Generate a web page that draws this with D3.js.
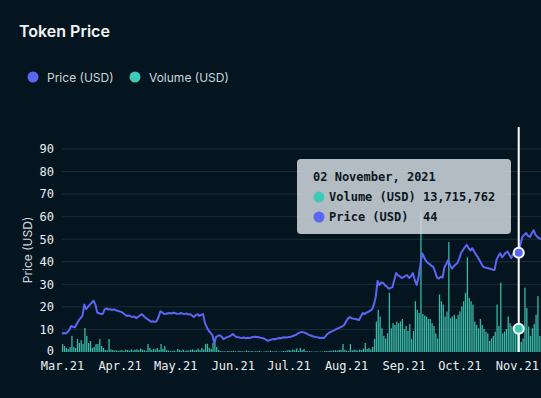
<!DOCTYPE html>
<html>
<head>
<meta charset="utf-8">
<script src="https://cdn.jsdelivr.net/npm/d3@7"></script>
<style>
  html, body { margin: 0; padding: 0; background: #04151f; }
  svg { display: block; }
  .tick text { font-family: "DejaVu Sans Mono", monospace; }
</style>
</head>
<body>
<div id="chart"></div>
<script>
// daily series, first day 2021-03-01
var startDay = '2021-03-01'

var priceMar = [8, 8.5, 8.2, 8.8, 10, 11.5, 11.2, 11, 12.5, 14, 15, 16, 21, 19, 20, 21, 21.8, 22.7, 21, 17.5, 17.2, 16.8, 17, 19, 19.3, 18.8, 19, 18.6, 18.9, 18.5, 18.3]
var priceApr = [18, 17.8, 17.2, 16.5, 16, 16.2, 15.8, 15.5, 15.7, 15, 15.6, 16.2, 16.8, 16, 15.2, 14.6, 14, 13.4, 13.6, 13.3, 13.7, 15.5, 18, 17.6, 16.8, 17, 17.2, 17.3, 17.1, 17.4]
var priceMay = [17.2, 17, 16.9, 17.3, 17, 16.8, 17.1, 16.6, 16.8, 16.2, 15.5, 16.3, 16.8, 16, 16.5, 16.8, 12.8, 11, 9.4, 8.5, 7.5, 4, 6.6, 7.2, 7.4, 6.8, 5.7, 6.2, 6.6, 6.9, 7.3]
var priceJun = [8, 7.2, 6.6, 6.5, 6.3, 6.2, 6.4, 6.1, 6.3, 6.2, 6.5, 6.6, 6.8, 6.7, 6.5, 6.3, 6.2, 5.9, 5.4, 4.9, 5.3, 5.6, 5.8, 5.7, 6, 6.2, 6.1, 6.4, 6.5, 6.4]
var priceJul = [6.6, 6.7, 7, 7.3, 7.6, 8.2, 8.6, 8.9, 8.7, 8.5, 8, 7.6, 7.3, 7, 6.8, 6.6, 6.4, 6.2, 6.3, 6.2, 7, 8, 8.6, 9, 9.4, 9.8, 10.3, 10.6, 11, 11.4, 12]
var priceAug = [13.5, 14.8, 15.5, 15, 14.8, 14.6, 14.4, 14.2, 15.8, 17.3, 16.8, 17.5, 17.8, 18.3, 19, 21, 24.5, 31.5, 29.7, 30.8, 30.6, 29.5, 29, 28, 28.4, 28.8, 32, 35, 34, 33.5, 32.8]
var priceSep = [33.2, 33.8, 34, 32.8, 33.6, 35, 32, 29.7, 33, 38.6, 43.8, 42, 40.5, 39.5, 39, 38.2, 37.7, 35.5, 33, 32.5, 33.4, 33, 37.7, 39, 40.8, 38.5, 37, 38, 38.8, 39.5]
var priceOct = [41.5, 44, 45.2, 46.5, 47.5, 46, 45, 46, 44.5, 43.2, 42, 40.5, 39, 37.7, 37.5, 37.2, 37, 36.8, 36.5, 36.4, 40.8, 42.5, 43.8, 42, 43, 44, 44.5, 43, 41.7, 43.5, 44.5]
var priceNov = [43.5, 44, 48, 51, 52, 52.7, 51.5, 51, 52.5, 54, 52, 51, 50.5, 50]

// volume in millions of USD
var volMar = [4.7, 3.5, 2.4, 1.8, 3, 9.5, 3, 2.4, 7.7, 5.3, 7, 4.7, 14.2, 9.5, 5.3, 6.5, 2.4, 3, 4.7, 4.7, 7.7, 3.5, 2.4, 1.2, 1, 7.7, 1.5, 1.2, 0.8, 1, 0.7]
var volApr = [0.9, 1.1, 0.6, 1.4, 1.2, 0.8, 1.5, 0.9, 1.3, 1.6, 1.1, 2, 1.4, 1, 0.8, 4.7, 2.5, 1.2, 1.8, 1.5, 2.4, 1.3, 4.7, 2, 3.5, 1.2, 0.8, 0.5, 0.6, 0.9]
var volMay = [0.4, 1.8, 1.2, 0.7, 1.4, 0.5, 1, 0.8, 1.3, 1.6, 0.9, 1.2, 2, 1.1, 2.4, 1.5, 4.7, 4.9, 2.5, 1.8, 5.3, 7.7, 3, 1.2, 0.6, 0.4, 0.5, 0.3, 0.6, 0.4, 0.5]
var volJun = [0.6, 0.4, 0.3, 0.7, 0.5, 0.4, 0.3, 0.8, 0.5, 0.4, 0.6, 0.3, 0.5, 0.4, 0.7, 0.3, 0.2, 0.4, 0.5, 0.3, 0.6, 0.4, 0.3, 0.5, 0.2, 0.3, 0.4, 0.6, 0.5, 0.9]
var volJul = [1.2, 0.8, 1.5, 1, 2.1, 0.7, 2.4, 1.1, 1.8, 0.6, 0.4, 0.5, 0.3, 0.2, 0.3, 0.4, 0.2, 0.3, 0.3, 0.4, 0.6, 0.5, 0.8, 0.7, 0.9, 1, 0.8, 1.2, 1.1, 4.7, 1.3]
var volAug = [0.8, 0.6, 4.7, 0.9, 1.4, 1.2, 0.8, 1.5, 1.1, 2, 5.3, 1.8, 2.4, 1.5, 3, 7.7, 18, 25, 21, 14, 9.5, 8, 11, 35, 14, 17, 16, 18, 17, 18, 19.5]
var volSep = [13.6, 15.4, 12.4, 16.5, 7.7, 12.4, 30, 25, 23, 83, 22.5, 21.5, 21, 19.5, 19.5, 17, 15.4, 11, 8, 34, 30, 28, 21, 24, 65, 20, 21, 22, 19.5, 22]
var volOct = [24, 27, 30, 35, 56, 32, 30, 28, 18, 16, 14, 19.5, 16, 13.6, 12, 11, 6.5, 8, 9.5, 12, 28, 15.4, 41, 11, 12, 13.6, 21, 17, 15.4, 12, 14]
var volNov = [12, 13.715762, 6, 8, 38, 26, 15, 9.5, 14, 16.5, 22, 33, 9.5, 12]

var yTicks = [0, 10, 20, 30, 40, 50, 60, 70, 80, 90]
var seriesNames = ['Price (USD)', 'Volume (USD)']
var hoverDay = '2021-11-02'

var colors = {
	bg: '#04151f',
	price: '#5b66f3',
	volume: '#3fc9b6',
	grid: '#1a2d3a',
	text: '#eceff2'
}

var width = 541
var height = 398
var margin = { top: 149, right: 0, bottom: 46, left: 62 }

var parseDay = d3.timeParse('%Y-%m-%d')
var prices = [].concat(priceMar, priceApr, priceMay, priceJun, priceJul, priceAug, priceSep, priceOct, priceNov)
var volumes = [].concat(volMar, volApr, volMay, volJun, volJul, volAug, volSep, volOct, volNov)
var first = parseDay(startDay)
var data = prices.map(function (p, i) {
	return { date: d3.timeDay.offset(first, i), price: p, volume: volumes[i] * 1e6 }
})

var svg = d3.select('#chart').append('svg')
	.attr('width', width)
	.attr('height', height)
	.style('background', colors.bg)

var x = d3.scaleTime()
	.domain([first, d3.timeDay.offset(first, 258)])
	.range([margin.left, width - margin.right])

var y = d3.scaleLinear()
	.domain([0, 90])
	.range([height - margin.bottom, margin.top])

var yVol = d3.scaleLinear()
	.domain([0, 120e6])
	.range([height - margin.bottom, margin.top])

// title + legend
svg.append('text')
	.attr('x', 19).attr('y', 37)
	.attr('fill', '#f3f5f7')
	.style('font-family', 'Inter, sans-serif')
	.style('font-size', '16px')
	.style('font-weight', 600)
	.text('Token Price')

var legendX = [33, 135]
seriesNames.forEach(function (name, i) {
	svg.append('circle')
		.attr('cx', legendX[i]).attr('cy', 77).attr('r', 5.5)
		.attr('fill', i == 0 ? colors.price : colors.volume)
	svg.append('text')
		.attr('x', legendX[i] + 14).attr('y', 81.5)
		.attr('fill', '#cfd5da')
		.style('font-family', 'Inter, sans-serif')
		.style('font-size', '12px')
		.text(name)
})

// grid
svg.append('g')
	.selectAll('line')
	.data(yTicks.filter(function (t) { return t > 0 }))
	.join('line')
	.attr('x1', margin.left).attr('x2', width)
	.attr('y1', function (d) { return y(d) }).attr('y2', function (d) { return y(d) })
	.attr('stroke', colors.grid)

// y axis
var yAxis = svg.append('g')
	.attr('transform', 'translate(' + margin.left + ',0)')
	.call(d3.axisLeft(y).tickValues(yTicks).tickSize(0).tickPadding(8))
yAxis.select('.domain').remove()
yAxis.selectAll('text').attr('fill', colors.text).style('font-size', '12px')
// keep the 0 label clear of the month labels below it
yAxis.selectAll('.tick').filter(function (d) { return d == 0 }).select('text').attr('dy', '0.2em')

svg.append('text')
	.attr('transform', 'translate(32,' + 250 + ') rotate(-90)')
	.attr('text-anchor', 'middle')
	.attr('fill', '#cfd5da')
	.style('font-family', 'Inter, sans-serif')
	.style('font-size', '12px')
	.text('Price (USD)')

// x axis
var xAxis = svg.append('g')
	.attr('transform', 'translate(0,' + (height - margin.bottom) + ')')
	.call(d3.axisBottom(x).ticks(d3.timeMonth.every(1)).tickFormat(d3.timeFormat('%b.%y')).tickSize(0).tickPadding(9))
xAxis.select('.domain').remove()
xAxis.selectAll('text').attr('fill', colors.text).style('font-size', '12px')

// volume bars
svg.append('g')
	.selectAll('rect')
	.data(data)
	.join('rect')
	.attr('x', function (d) { return x(d.date) })
	.attr('width', 1.3)
	.attr('y', function (d) { return yVol(d.volume) })
	.attr('height', function (d) { return yVol(0) - yVol(d.volume) })
	.attr('fill', colors.volume)
	.attr('opacity', 0.9)

// price line
var line = d3.line()
	.x(function (d) { return x(d.date) })
	.y(function (d) { return y(d.price) })

svg.append('path')
	.datum(data)
	.attr('d', line)
	.attr('fill', 'none')
	.attr('stroke', colors.price)
	.attr('stroke-width', 2)
	.attr('stroke-linejoin', 'round')

// hover state
var hover = data.find(function (d) { return +d.date == +parseDay(hoverDay) })
var hx = x(hover.date)

svg.append('line')
	.attr('x1', hx).attr('x2', hx)
	.attr('y1', 127).attr('y2', height - margin.bottom)
	.attr('stroke', 'white')
	.attr('stroke-width', 2)

svg.append('circle')
	.attr('cx', hx).attr('cy', y(hover.price)).attr('r', 5)
	.attr('fill', colors.price).attr('stroke', 'white').attr('stroke-width', 2)
svg.append('circle')
	.attr('cx', hx).attr('cy', yVol(hover.volume)).attr('r', 5)
	.attr('fill', colors.volume).attr('stroke', 'white').attr('stroke-width', 2)

// tooltip
var tip = svg.append('g').attr('transform', 'translate(297,159)')
tip.append('rect')
	.attr('width', 214).attr('height', 75).attr('rx', 4)
	.attr('fill', 'rgba(214,220,226,0.84)')

var tipFont = function (sel) {
	sel.attr('fill', '#0b1720')
		.style('font-family', '"DejaVu Sans Mono", monospace')
		.style('font-size', '12px')
		.style('font-weight', 'bold')
		.style('white-space', 'pre')
}

tip.append('text').attr('x', 16).attr('y', 22).call(tipFont)
	.text(d3.timeFormat('%d %B, %Y')(hover.date))

var rows = [
	{ name: seriesNames[1], color: colors.volume, value: d3.format(',')(Math.round(hover.volume)) },
	{ name: seriesNames[0], color: colors.price, value: d3.format(',')(hover.price) }
]
rows.forEach(function (r, i) {
	tip.append('circle')
		.attr('cx', 22).attr('cy', 38 + i * 20).attr('r', 5.5)
		.attr('fill', r.color)
	tip.append('text').attr('x', 32).attr('y', 42 + i * 20).call(tipFont)
		.text(r.name.padEnd(13, ' ') + r.value)
})
</script>
</body>
</html>
